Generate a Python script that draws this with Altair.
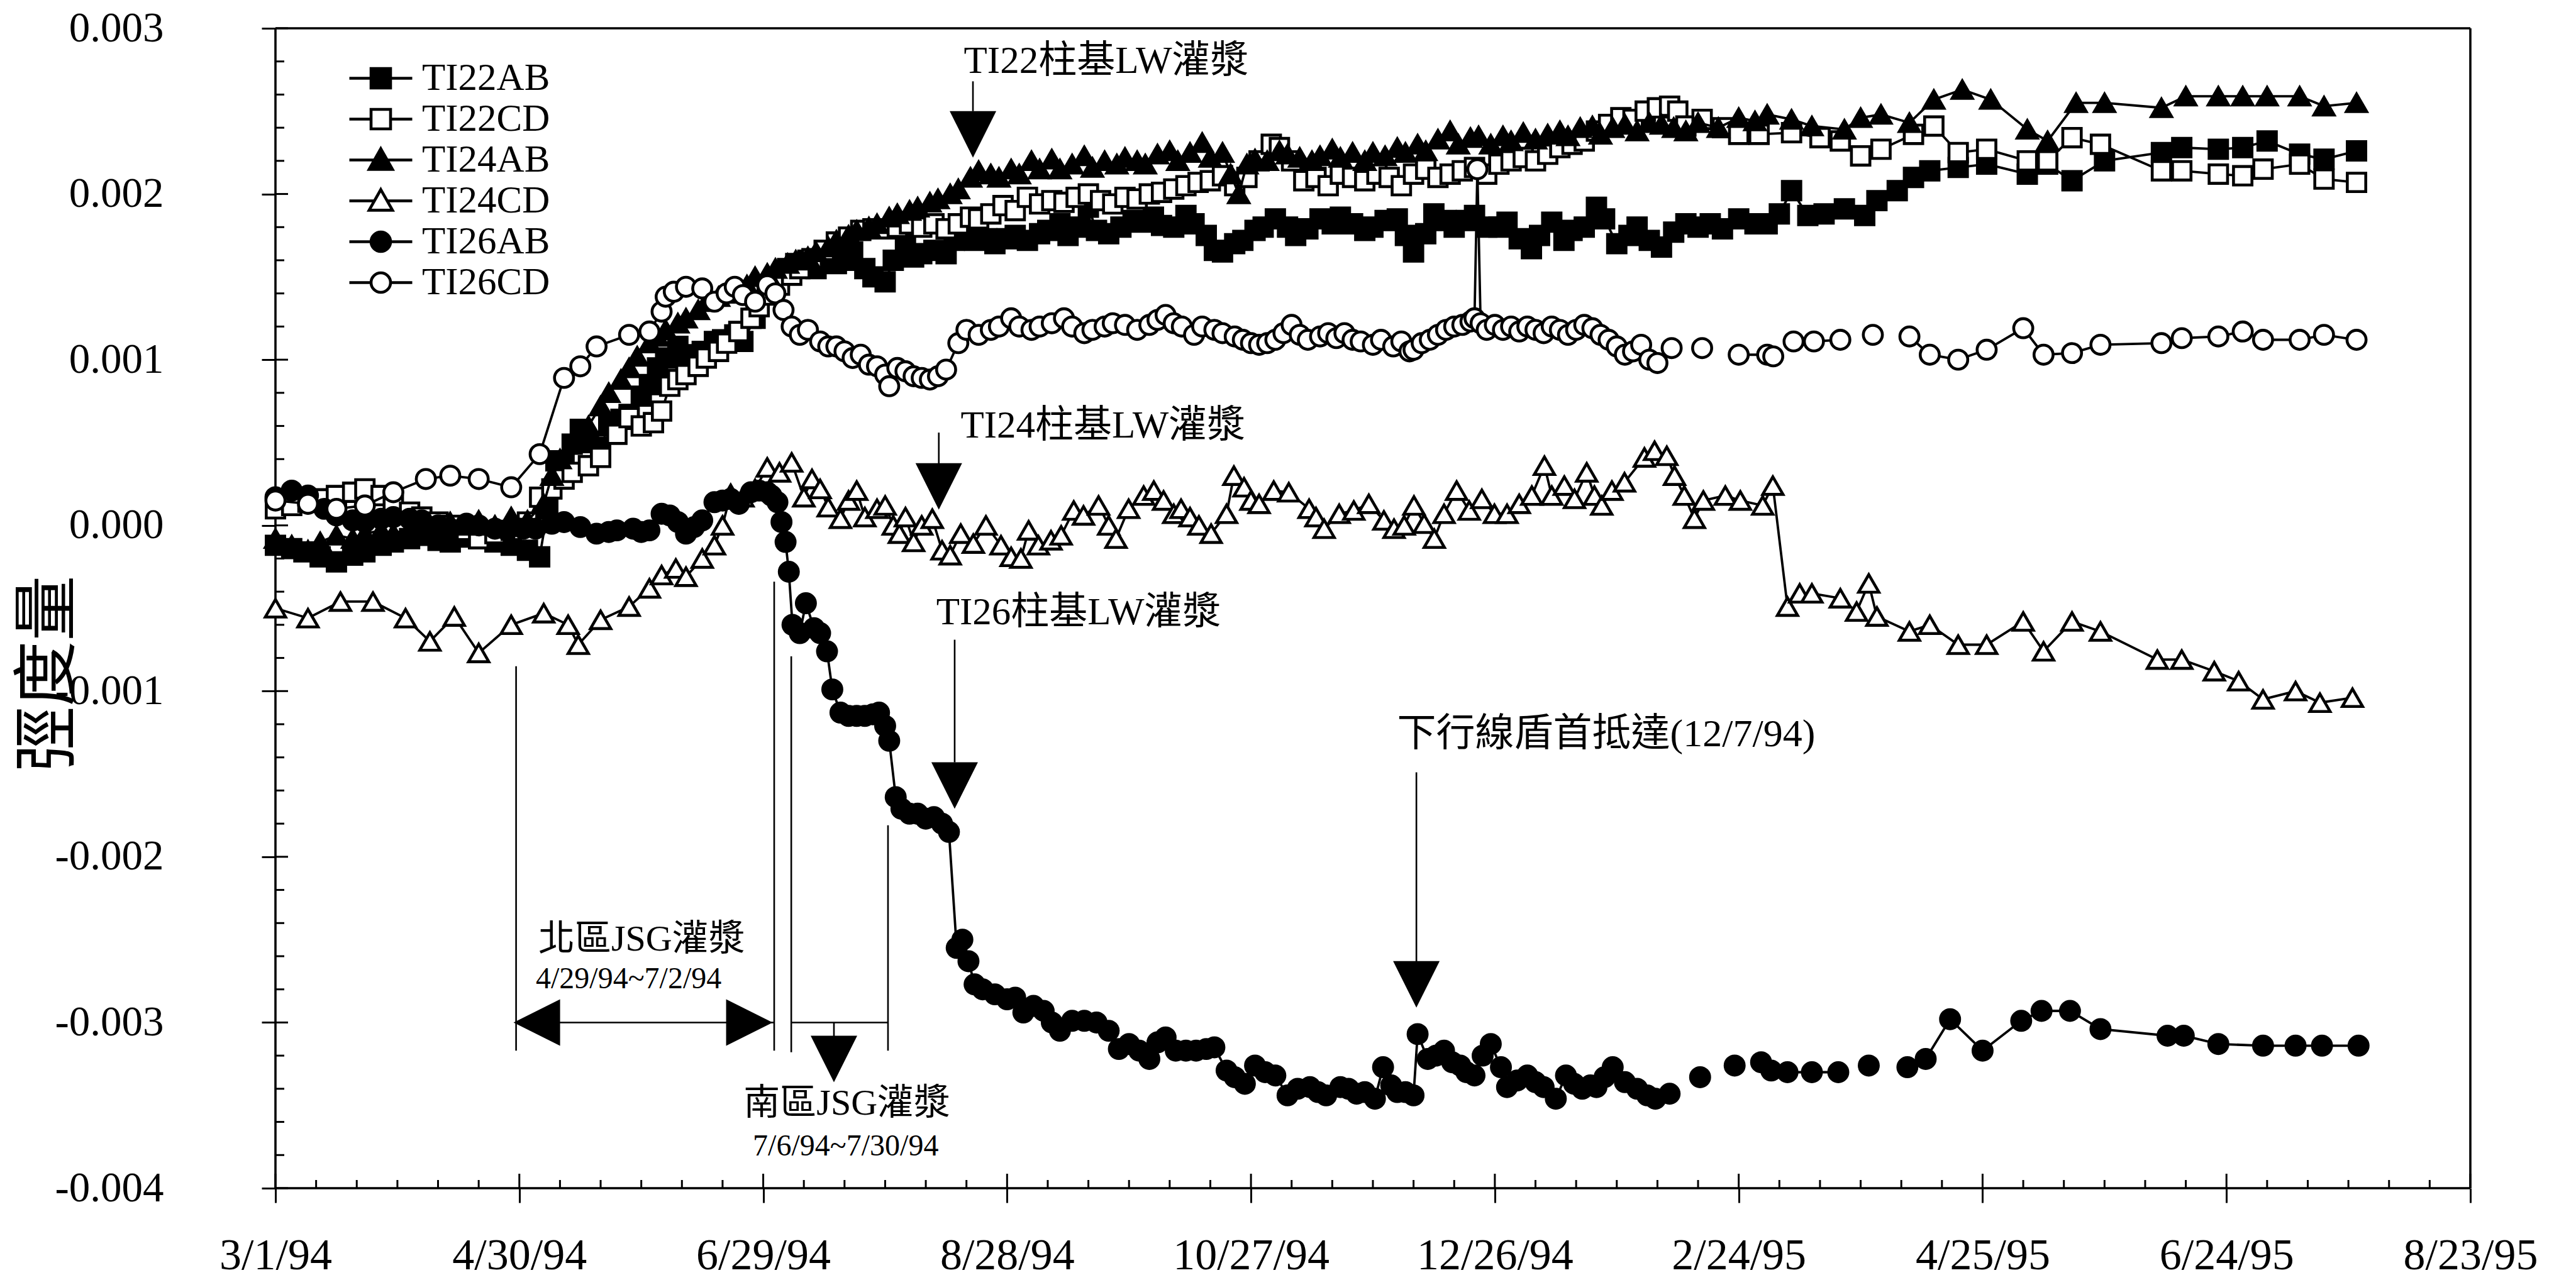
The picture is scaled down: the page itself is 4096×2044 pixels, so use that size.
import json
import altair as alt
import pandas as pd

# ---------------------------------------------------------------- data
# time: days after 3/1/94 ; strain values in units of 1e-3 (None = gap in the record)
SERIES = ["TI22AB", "TI22CD", "TI24AB", "TI24CD", "TI26AB", "TI26CD"]
X_LABELS = ["3/1/94", "4/30/94", "6/29/94", "8/28/94", "10/27/94",
            "12/26/94", "2/24/95", "4/25/95", "6/24/95", "8/23/95"]

ti22ab_day = [0, 4, 7, 11, 15, 19, 22, 26, 29, 33, 36, 40, 43, 47, 50, 54, 58, 62, 65,
              67, 69, 71, 73, 75, 77, 80, 82, 85, 87, 90, 92, 94, 96, 99, 101, 103, 105, 108, 110,
              113, 115, 118, 121, 123, 126, 128, 131, 133, 135, 138, 140, 142, 145, 147, 150, 152,
              155, 157, 159, 162, 165, 167, 170, 172, 175, 177, 180, 182, 185, 188, 190, 193, 195,
              198, 200, 202, 205, 208, 211, 213, 216, 218, 221, 224, 226, 229, 231, 233, 236, 238,
              241, 243, 246, 249, 251, 254, 257, 260, 262, 265, 268, 270, 273, 276, 278, 280, 283,
              285, 288, 290, 293, 295, 298, 301, 303, 306, 309, 311, 314, 317, 319, 322, 325, 327,
              330, 333, 335, 338, 341, 344, 347, 350, 353, 356, 360, 364, 367, 370, 373, 377, 381,
              386, 391, 394, 399, 403, 407, 414, 421, 431, 436, 442, 450, 464, 469, 478, 484, 490,
              498, 504, 512]
ti22ab_val = [-0.12, -0.14, -0.16, -0.19, -0.22, -0.18, -0.16, -0.12, -0.10, -0.08, -0.06, -0.09,
              -0.10, -0.07, -0.08, -0.10, -0.12, -0.15, -0.19,
              0.10, 0.39, 0.37, 0.49, 0.58, 0.50, 0.47, 0.60, 0.64, 0.67, 0.78, 0.85, 0.95, 1.01,
              1.08, 0.97, 1.03, 1.05, 1.11, 1.12, 1.15, 1.11, 1.25, 1.40, 1.47, 1.55, 1.58, 1.60,
              1.55, 1.62, 1.58, 1.60, 1.65, 1.55, 1.50, 1.47, 1.60, 1.70, 1.62, 1.64, 1.66, 1.64,
              1.72, 1.75, 1.72, 1.73, 1.70, 1.73, 1.75, 1.72, 1.76, 1.78, 1.82, 1.75, 1.80, 1.92,
              1.78, 1.76, 1.80, 1.84, 1.83, 1.86, 1.81, 1.80, 1.87, 1.82, 1.75, 1.66, 1.65, 1.70,
              1.72, 1.78, 1.80, 1.85, 1.80, 1.75, 1.79, 1.85, 1.82, 1.86, 1.82, 1.78, 1.80, 1.84,
              1.85, 1.75, 1.65, 1.76, 1.88, 1.84, 1.80, 1.84, 1.87, 1.80, 1.80, 1.83, 1.73, 1.67,
              1.75, 1.83, 1.72, 1.78, 1.80, 1.92, 1.85, 1.70, 1.75, 1.80, 1.72, 1.68, 1.77, 1.82,
              1.80, 1.82, 1.79, 1.85, 1.82, 1.82, 1.88, 2.02, 1.87, 1.88, 1.91, 1.87, 1.96, 2.02,
              2.10, 2.14, 2.16, 2.18, 2.12, 2.18, 2.08, 2.20, 2.25, 2.28, 2.27, 2.28, 2.32, 2.24,
              2.21, 2.26]

ti22cd_day = [0, 4, 8, 12, 15, 19, 22, 26, 29, 33, 36, 40, 43, 47, 50, 54, 58, 62, 65,
              68, 71, 73, 77, 80, 84, 87, 90, 93, 95, 97, 99, 101, 104, 106, 109, 111, 114, 117,
              119, 121, 124, 127, 129, 132, 135, 138, 141, 144, 147, 150, 153, 156, 159, 162, 165,
              168, 171, 173, 176, 179, 182, 185, 188, 191, 194, 197, 200, 203, 206, 209, 212, 215,
              218, 221, 224, 227, 230, 233, 236, 239, 242, 245, 247, 250, 253, 256, 259, 262, 265,
              268, 271, 274, 277, 280, 283, 286, 289, 292, 295, 298, 301, 304, 307, 310, 313, 316,
              319, 322, 325, 328, 331, 334, 337, 340, 343, 345, 347, 351, 356, 360, 365, 373, 380,
              385, 390, 395, 403, 408, 414, 421, 431, 436, 442, 449, 464, 469, 478, 484, 489, 498,
              504, 512]
ti22cd_val = [0.10, 0.12, 0.14, 0.16, 0.18, 0.20, 0.22, 0.18, 0.12, 0.08, 0.05, 0.02, 0.00, -0.03,
              -0.08, -0.05, -0.03, 0.02, 0.17,
              0.22, 0.28, 0.32, 0.36, 0.41, 0.55, 0.65, 0.60, 0.62, 0.69, 0.84, 0.88, 0.91, 0.96,
              1.01, 1.05, 1.10, 1.17, 1.25, 1.32, 1.39, 1.45, 1.51, 1.55, 1.61, 1.66, 1.71, 1.74,
              1.78, 1.79, 1.79, 1.80, 1.82, 1.80, 1.82, 1.79, 1.82, 1.86, 1.85, 1.88, 1.93, 1.90,
              1.98, 1.94, 1.96, 1.95, 1.98, 2.00, 1.96, 1.94, 1.98, 1.97, 2.00, 2.01, 2.03, 2.05,
              2.07, 2.08, 2.11, 2.05, 2.10, 2.20, 2.30, 2.28, 2.20, 2.08, 2.10, 2.05, 2.12, 2.10,
              2.08, 2.12, 2.10, 2.05, 2.12, 2.15, 2.10, 2.12, 2.14, 2.16, 2.12, 2.18, 2.20, 2.22,
              2.20, 2.24, 2.28, 2.30, 2.32, 2.38, 2.42, 2.46, 2.45, 2.50, 2.52, 2.53, 2.50, 2.41,
              2.45, 2.40, 2.36, 2.36, 2.37, 2.34, 2.32, 2.23, 2.27, 2.36, 2.41, 2.25, 2.27, 2.20,
              2.20, 2.34, 2.30, 2.14, 2.14, 2.12, 2.11, 2.15, 2.18, 2.09, 2.07]

ti24ab_day = [0, 4, 8, 11, 15, 19, 22, 26, 29, 33, 36, 40, 43, 47, 50, 54, 58, 62, 66,
              68, 70, 73, 75, 77, 80, 82, 85, 87, 89, 92, 94, 96, 99, 101, 104, 106, 109, 111, 113,
              116, 118, 121, 123, 126, 128, 131, 133, 136, 138, 141, 143, 146, 148, 151, 153, 156,
              158, 161, 163, 166, 168, 171, 173, 176, 178, 181, 183, 186, 188, 191, 193, 196, 199,
              201, 204, 207, 209, 212, 214, 217, 220, 222, 225, 228, 230, 233, 235, 237, 239, 241,
              244, 247, 249, 252, 255, 257, 260, 262, 265, 268, 270, 273, 276, 278, 281, 283, 286,
              289, 291, 294, 296, 299, 302, 304, 307, 310, 313, 316, 318, 321, 324, 326, 329, 332,
              335, 338, 341, 344, 347, 350, 355, 360, 364, 367, 373, 378, 386, 390, 395, 402, 408,
              415, 422, 431, 436, 443, 450, 464, 470, 478, 484, 490, 498, 504, 512]
ti24ab_val = [-0.08, -0.12, -0.15, -0.10, -0.06, -0.08, -0.05, -0.03, -0.05, -0.02, 0.00, -0.03,
              0.02, 0.00, 0.03, 0.00, 0.05, 0.03, 0.13,
              0.30, 0.40, 0.50, 0.55, 0.60, 0.72, 0.80, 0.88, 0.95, 1.02, 1.10, 1.14, 1.18, 1.22,
              1.25, 1.30, 1.35, 1.38, 1.40, 1.42, 1.45, 1.50, 1.52, 1.55, 1.58, 1.60, 1.62, 1.65,
              1.68, 1.72, 1.75, 1.78, 1.80, 1.82, 1.86, 1.88, 1.90, 1.92, 1.95, 1.97, 2.00, 2.03,
              2.10, 2.14, 2.12, 2.10, 2.15, 2.12, 2.20, 2.15, 2.21, 2.15, 2.18, 2.23, 2.16, 2.20,
              2.18, 2.22, 2.20, 2.18, 2.24, 2.26, 2.20, 2.25, 2.31, 2.22, 2.25, 2.12, 2.00, 2.18,
              2.21, 2.20, 2.26, 2.24, 2.22, 2.20, 2.23, 2.27, 2.22, 2.25, 2.20, 2.25, 2.23, 2.28,
              2.25, 2.30, 2.26, 2.33, 2.38, 2.30, 2.34, 2.35, 2.30, 2.35, 2.32, 2.37, 2.33, 2.36,
              2.38, 2.35, 2.40, 2.41, 2.36, 2.40, 2.42, 2.38, 2.43, 2.42, 2.40, 2.38, 2.43, 2.40,
              2.46, 2.44, 2.48, 2.45, 2.41, 2.39, 2.46, 2.48, 2.43, 2.57, 2.63, 2.57, 2.39, 2.32,
              2.55, 2.55, 2.52, 2.59, 2.59, 2.59, 2.59, 2.59, 2.53, 2.55]

ti24cd_day = [0, 8, 16, 24, 32, 38, 44, 50, 58, 66, 72, 74.5, 80, 87, 92, 95, 98.5, 101, 105,
              108, 110, 112, 115, 118, 121, 124, 127, 130, 132, 134, 136, 139, 141, 143, 145, 148,
              150, 152, 153.5, 155, 157, 159, 161.6, 164, 166, 168.6, 171.7, 174.8, 178.5, 181,
              183.4, 185.3, 187.7, 190.8, 193.3, 196.4, 198.8, 202.5, 205, 206.8, 209.9, 213.6,
              216.1, 218.5, 221, 222.8, 225, 227.2, 230.2, 234, 235.8, 238.3, 240, 242, 245.6,
              249.3, 254.3, 256, 258, 261.7, 265.3, 269, 272.7, 275.2, 277.7, 280.1, 282.6, 285.1,
              287.5, 290.6, 293.7, 296.8, 299.9, 303, 306, 309.1, 312.2, 314, 317.1, 319.6, 322.6,
              324.5, 326.3, 328.8, 331.9, 336.8, 339.3, 342.3, 344.2, 346.6, 349.1, 351.3, 356.7,
              360.4, 365.9, 368.4, 372, 375, 378, 385, 389, 392, 394, 402, 407, 414, 421, 430, 435,
              442, 449, 463, 469, 477, 483, 489, 497, 503, 511]
ti24cd_val = [-0.50, -0.56, -0.46, -0.46, -0.56, -0.70, -0.55, -0.77, -0.60, -0.53, -0.60, -0.72,
              -0.57, -0.49, -0.38, -0.30, -0.26, -0.31, -0.20, -0.12, 0.00, 0.19, 0.17, 0.22, 0.35,
              0.32, 0.38, 0.17, 0.28, 0.22, 0.11, 0.04, 0.15, 0.21, 0.05, 0.10, 0.12, 0.00, -0.05,
              0.05, -0.10, 0.00, 0.04, -0.15, -0.18, -0.05, -0.11, 0.00, -0.12, -0.19, -0.20,
              -0.03, -0.12, -0.09, -0.06, 0.09, 0.06, 0.12, 0.00, -0.08, 0.10, 0.18, 0.21, 0.15,
              0.07, 0.10, 0.05, 0.00, -0.05, 0.07, 0.30, 0.23, 0.15, 0.13, 0.21, 0.20, 0.10, 0.05,
              -0.02, 0.07, 0.09, 0.13, 0.03, -0.02, 0.00, 0.12, 0.01, -0.08, 0.07, 0.21, 0.09, 0.16,
              0.07, 0.07, 0.13, 0.18, 0.36, 0.18, 0.24, 0.16, 0.32, 0.18, 0.12, 0.21, 0.26, 0.41,
              0.45, 0.42, 0.30, 0.18, 0.04, 0.15, 0.18, 0.15, 0.12, 0.24, -0.49, -0.41, -0.41,
              -0.44, -0.52, -0.35, -0.55, -0.64, -0.60, -0.72, -0.72, -0.58, -0.76, -0.58, -0.64,
              -0.81, -0.81, -0.88, -0.94, -1.05, -1.00, -1.07, -1.04]

ti26ab_day = [0, 4, 8, 12, 15, 19, 22, 26, 29, 33, 36, 40, 43, 47, 50, 54, 57, 61, 64, 68, 71,
              75, 79, 82, 84, 88, 90, 92, 95, 97, 99, 101, 103, 105, 108, 110, 112, 114, 117, 119,
              121, 122, 123.5, 124.5, 125.5, 126.3, 127.2, 129, 130.5, 132.5, 134, 135.7, 137, 139,
              141, 143, 145, 147, 148.5, 150, 151, 152.6, 154, 156, 158, 160, 162, 164, 165.7,
              167.6, 169, 170.5, 172, 174, 177, 180, 182, 184, 186.5, 189, 191, 193, 196, 199, 202,
              205, 207.5, 210, 212.5, 215, 217, 219, 221.5, 224, 226.5, 229, 231, 234, 236, 238.5,
              241, 243.5, 246, 249, 251.5, 254.5, 256.5, 258.5, 262, 264, 266, 268, 270.5, 272.5,
              274.5, 276, 278, 280, 281, 283.5, 285.5, 287.5, 289.5, 291.5, 293, 295, 297, 299,
              301.5, 303, 305.5, 308, 310, 312, 315, 317.5, 319.5, 321.5, 323.5, 325, 327, 329, 332,
              335, 337.5, 339.5, 343, None, 350.5, None, 359, None, 365.5, 368, 372, 378, 384.5,
              None, 392, None, 401.5, 406, 412, 420, 429.5, 434.5, 441.5, 449, 465.5, 469.5, 478,
              489, 497, 503.5, 512.5]
ti26ab_val = [0.17, 0.21, 0.18, 0.10, 0.06, 0.03, 0.02, 0.04, 0.05, 0.04, 0.03, 0.00, -0.02, 0.01,
              0.00, -0.02, -0.03, -0.02, -0.02, 0.01, 0.02, -0.01, -0.05, -0.04, -0.03, -0.02,
              -0.04, -0.03, 0.07, 0.06, 0.02, -0.05, -0.01, 0.03, 0.14, 0.15, 0.16, 0.13, 0.20,
              0.21, 0.20, 0.18, 0.14, 0.02, -0.10, -0.28, -0.60, -0.65, -0.47, -0.62, -0.65, -0.76,
              -0.99, -1.13, -1.15, -1.15, -1.15, -1.14, -1.13, -1.21, -1.30, -1.64, -1.71, -1.74,
              -1.74, -1.77, -1.76, -1.80, -1.85, -2.55, -2.50, -2.63, -2.77, -2.80, -2.83, -2.86,
              -2.85, -2.94, -2.90, -2.93, -3.00, -3.05, -2.99, -2.99, -3.00, -3.05, -3.16, -3.13,
              -3.17, -3.22, -3.12, -3.09, -3.17, -3.17, -3.17, -3.16, -3.15, -3.29, -3.33, -3.37,
              -3.26, -3.30, -3.32, -3.44, -3.40, -3.39, -3.42, -3.44, -3.39, -3.40, -3.43, -3.42,
              -3.46, -3.27, -3.38, -3.42, -3.42, -3.44, -3.07, -3.22, -3.20, -3.17, -3.24, -3.26,
              -3.30, -3.32, -3.20, -3.13, -3.27, -3.39, -3.35, -3.32, -3.36, -3.39, -3.46, -3.32,
              -3.37, -3.40, -3.38, -3.39, -3.33, -3.27, -3.36, -3.40, -3.44, -3.46, -3.43, None,
              -3.33, None, -3.26, None, -3.24, -3.29, -3.30, -3.30, -3.30, None, -3.26, None, -3.27,
              -3.22, -2.98, -3.17, -2.99, -2.93, -2.93, -3.04, -3.08, -3.08, -3.13, -3.14, -3.14,
              -3.14, -3.14]

ti26cd_day = [0, 8, 15, 22, 29, 37, 43, 50, 58, 65, 71, 75, 79, 87, 92, 95, 96, 98, 101, 105,
              108, 111, 113, 115, 118, 121, 123, 125, 127, 129, 131, 134, 136, 138, 140, 142, 144,
              146, 148, 150, 151, 153, 155, 157, 159, 161, 163, 165, 168, 170, 173, 176, 178, 181,
              183, 186, 188, 191, 194, 196, 199, 201, 204, 206, 209, 212, 215, 217, 219, 221, 223,
              226, 228, 231, 233, 236, 238, 240, 242, 244, 246, 248, 250, 252, 254, 257, 259, 261,
              263, 265, 267, 270, 272, 275, 277, 279, 280, 282, 284, 286, 288, 290, 292, 294, 295,
              295.7, 296.5, 298, 300, 302, 304, 306, 308, 310, 312, 314, 316, 318, 320, 322, 324,
              326, 328, 330, 332, 334, 336, 338, 340, 343.5, None, 351, None, 360, 367, 368.5, None,
              373.5, 378.5, 385, None, 393, None, 402, 407, 414, 421, 430, 435, 442, 449, 464, 469,
              478, 484, 489, 498, 504, 512]
ti26cd_val = [0.15, 0.13, 0.10, 0.12, 0.20, 0.28, 0.30, 0.28, 0.23, 0.43, 0.89, 0.96, 1.08, 1.15,
              1.17, 1.29, 1.38, 1.41, 1.44, 1.43, 1.35, 1.40, 1.44, 1.39, 1.35, 1.45, 1.40, 1.30,
              1.20, 1.15, 1.18, 1.11, 1.08, 1.08, 1.05, 1.01, 1.03, 0.97, 0.96, 0.91, 0.84, 0.95,
              0.93, 0.90, 0.89, 0.88, 0.90, 0.94, 1.10, 1.18, 1.15, 1.18, 1.20, 1.25, 1.20, 1.18,
              1.20, 1.22, 1.25, 1.20, 1.16, 1.18, 1.20, 1.22, 1.21, 1.18, 1.21, 1.24, 1.27, 1.22,
              1.20, 1.15, 1.20, 1.18, 1.16, 1.14, 1.12, 1.10, 1.09, 1.10, 1.12, 1.16, 1.21, 1.15,
              1.12, 1.14, 1.16, 1.13, 1.16, 1.12, 1.11, 1.09, 1.12, 1.08, 1.11, 1.05, 1.06, 1.10,
              1.12, 1.15, 1.18, 1.20, 1.21, 1.23, 1.25, 2.15, 1.22, 1.18, 1.21, 1.18, 1.20, 1.17,
              1.20, 1.18, 1.16, 1.20, 1.18, 1.15, 1.18, 1.21, 1.19, 1.15, 1.12, 1.08, 1.03, 1.05,
              1.09, 1.00, 0.98, 1.07, None, 1.07, None, 1.03, 1.03, 1.02, None, 1.11, 1.11, 1.12,
              None, 1.15, None, 1.14, 1.03, 1.00, 1.06, 1.19, 1.03, 1.04, 1.09, 1.10, 1.13, 1.14,
              1.17, 1.12, 1.12, 1.15, 1.12]

# annotations (positions in data units)
ANN_TEXT = ["TI22柱基LW灌漿", "TI24柱基LW灌漿", "TI26柱基LW灌漿", "下行線盾首抵達(12/7/94)",
            "北區JSG灌漿", "4/29/94~7/2/94", "南區JSG灌漿", "7/6/94~7/30/94"]
ANN_DAY = [204.4, 203.6, 197.6, 327.4, 90.1, 86.9, 140.6, 140.3]
ANN_VAL = [2.80, 0.60, -0.53, -1.26, -2.50, -2.74, -3.49, -3.75]
ANN_SIZE = [61, 61, 61, 62, 58, 48, 58, 48]

VR_DAY = [171.6, 163.2, 167.1, 280.7, 59.2, 122.7, 126.9, 150.7, 137.4]
VR_TOP = [2.68, 0.56, -0.69, -1.49, -0.85, -0.34, -0.79, -1.81, -3.00]
VR_BOT = [2.50, 0.36, -1.43, -2.63, -3.17, -3.17, -3.18, -3.17, -3.09]

HR_DAY1 = [59.2, 126.9]
HR_DAY2 = [122.7, 150.7]
HR_VAL = [-3.00, -3.00]

DOWN = "M-1,-1L1,-1L0,1Z"
LEFT = "M1,-1L1,1L-1,0Z"
RIGHT = "M-1,-1L-1,1L1,0Z"
DOWN_DAY = [171.6, 163.2, 167.1, 280.7, 137.4]
DOWN_VAL = [2.36, 0.235, -1.57, -2.77, -3.22]
LEFT_DAY, LEFT_VAL = [64.3], [-3.00]
RIGHT_DAY, RIGHT_VAL = [116.6], [-3.00]

# ---------------------------------------------------------------- styling
W, H = 3490, 1845
SERIF = "Liberation Serif, Times New Roman, serif"
MIXED = "Liberation Serif, Noto Sans CJK TC, serif"

SHAPES = ["square", "square", "triangle-up", "triangle-up", "circle", "circle"]
FILLS = ["black", "white", "black", "white", "black", "white"]
SIZES = [860, 860, 1040, 1040, 920, 920]

LEG_PATHS = [
    "M-1.613,0H-0.5M0.5,0H1.613M-0.5,-0.5H0.5V0.5H-0.5Z",
    "M-1.613,0H-0.5M0.5,0H1.613M-0.5,-0.5H0.5V0.5H-0.5Z",
    "M-1.613,0H-0.32M0.32,0H1.613M0,-0.58L0.6,0.48L-0.6,0.48Z",
    "M-1.613,0H-0.32M0.32,0H1.613M0,-0.58L0.6,0.48L-0.6,0.48Z",
    "M-1.613,0H-0.5M0.5,0H1.613M-0.5,0A0.5,0.5,0,1,1,0.5,0A0.5,0.5,0,1,1,-0.5,0Z",
    "M-1.613,0H-0.5M0.5,0H1.613M-0.5,0A0.5,0.5,0,1,1,0.5,0A0.5,0.5,0,1,1,-0.5,0Z",
]

x_axis = alt.Axis(
    values=[i * 60 for i in range(len(X_LABELS))],
    labelExpr=f"{json.dumps(X_LABELS)}[round(datum.value / 60)]",
    title=None, grid=False, domain=False,
    ticks=True, tickSize=23, tickWidth=3, tickColor="black",
    labelFont=SERIF, labelFontSize=70, labelColor="black", labelLimit=0,
    labelPadding=50, labelBaseline="top", labelFlush=False, labelOverlap=False,
)
y_axis = alt.Axis(
    values=list(range(-4, 4)),
    labelExpr="(datum.value < 0 ? '-' : '') + format(abs(datum.value) / 1000, '.3f')",
    title="弳度量", titleFont="Noto Sans CJK TC", titleFontSize=104, titleFontWeight="normal",
    titleColor="black", titleAngle=270, titleX=-360, titleY=1026,
    titleAlign="center", titleBaseline="middle", titleLimit=0,
    grid=False, domain=False,
    ticks=True, tickSize=22, tickWidth=3, tickColor="black",
    labelFont=SERIF, labelFontSize=67, labelColor="black", labelLimit=0,
    labelPadding=156, labelFlush=False, labelOverlap=False,
)

X = alt.X("day:Q", scale=alt.Scale(domain=[0, 540], nice=False, zero=False), axis=x_axis)
Y = alt.Y("val:Q", scale=alt.Scale(domain=[-4, 3], nice=False, zero=False), axis=y_axis)


def frame(days, vals):
    rows, seg = [], 0
    for d, v in zip(days, vals):
        if v is None:
            seg += 1
            continue
        rows.append({"day": d, "val": v, "seg": seg})
    return pd.DataFrame(rows)


series_data = {
    "TI22AB": (ti22ab_day, ti22ab_val),
    "TI22CD": (ti22cd_day, ti22cd_val),
    "TI24AB": (ti24ab_day, ti24ab_val),
    "TI24CD": (ti24cd_day, ti24cd_val),
    "TI26AB": (ti26ab_day, ti26ab_val),
    "TI26CD": (ti26cd_day, ti26cd_val),
}

layers = []

# plot frame (drawn through the scales at the domain limits)
layers.append(alt.Chart(pd.DataFrame({"val": [-4, 3]})).mark_rule(color="black", strokeWidth=3.6)
              .encode(y=Y, x=alt.value(0), x2=alt.value(W)))
layers.append(alt.Chart(pd.DataFrame({"day": [0, 540]})).mark_rule(color="black", strokeWidth=3.6)
              .encode(x=X, y=alt.value(0), y2=alt.value(H)))

# inward tick marks (minor and major)
ymaj = pd.DataFrame({"val": list(range(-4, 4))})
ymin = pd.DataFrame({"val": [k / 5 for k in range(-20, 16) if k % 5 != 0]})
xmaj = pd.DataFrame({"day": [i * 60 for i in range(10)]})
xmin = pd.DataFrame({"day": [d for d in range(0, 541, 10) if d % 60 != 0]})
layers.append(alt.Chart(ymaj).mark_rule(color="black", strokeWidth=3).encode(
    y=Y, x=alt.value(0), x2=alt.value(20)))
layers.append(alt.Chart(ymin).mark_rule(color="black", strokeWidth=3).encode(
    y=Y, x=alt.value(0), x2=alt.value(14)))
layers.append(alt.Chart(xmaj).mark_rule(color="black", strokeWidth=3).encode(
    x=X, y=alt.value(H - 23), y2=alt.value(H)))
layers.append(alt.Chart(xmin).mark_rule(color="black", strokeWidth=3).encode(
    x=X, y=alt.value(H - 13), y2=alt.value(H)))

# annotation lines / arrows
vr = pd.DataFrame({"day": VR_DAY, "val": VR_TOP, "val2": VR_BOT})
layers.append(alt.Chart(vr).mark_rule(color="black", strokeWidth=2.6).encode(
    x=X, y=Y, y2=alt.Y2("val2:Q")))
hr = pd.DataFrame({"day": HR_DAY1, "day2": HR_DAY2, "val": HR_VAL})
layers.append(alt.Chart(hr).mark_rule(color="black", strokeWidth=2.6).encode(
    x=X, x2=alt.X2("day2:Q"), y=Y))
for days, vals, path in [(DOWN_DAY, DOWN_VAL, DOWN), (LEFT_DAY, LEFT_VAL, LEFT),
                         (RIGHT_DAY, RIGHT_VAL, RIGHT)]:
    layers.append(alt.Chart(pd.DataFrame({"day": days, "val": vals}))
                  .mark_point(shape=path, filled=True, color="black", opacity=1, size=5476,
                              strokeWidth=0)
                  .encode(x=X, y=Y))

# data series
for name, shape, fill, size in zip(SERIES, SHAPES, FILLS, SIZES):
    df = frame(*series_data[name])
    layers.append(alt.Chart(df).mark_line(color="black", strokeWidth=3.8).encode(
        x=X, y=Y, detail="seg:N", order="day:Q"))
    layers.append(alt.Chart(df).mark_point(shape=shape, filled=True, fill=fill, stroke="black",
                                           strokeWidth=4.6, size=size, opacity=1).encode(
        x=X, y=Y))

# legend-only layer: its rows lie far outside the view; the legend comes from explicit domains
legend_df = pd.DataFrame({"day": [-9999] * 6, "val": [0] * 6, "series": SERIES})
leg_common = dict(
    orient="none", legendX=134, legendY=46, title=None, padding=0, rowPadding=1,
    symbolSize=3844, symbolStrokeColor="black", symbolStrokeWidth=4.6, symbolOpacity=1,
    labelFont=SERIF, labelFontSize=61, labelColor="black", labelOffset=32, labelLimit=0,
)
layers.append(
    alt.Chart(legend_df)
    .mark_point(filled=True, strokeWidth=4.6, opacity=1)
    .encode(
        x=X, y=Y,
        shape=alt.Shape("series:N", scale=alt.Scale(domain=SERIES, range=LEG_PATHS),
                        legend=alt.Legend(**leg_common)),
        fill=alt.Fill("series:N", scale=alt.Scale(domain=SERIES, range=FILLS),
                      legend=alt.Legend(**leg_common)),
        stroke=alt.Stroke("series:N", scale=alt.Scale(domain=SERIES, range=["black"] * 6),
                          legend=alt.Legend(**leg_common)),
    )
)

# annotation texts
ann = pd.DataFrame({"day": ANN_DAY, "val": ANN_VAL, "text": ANN_TEXT, "fs": ANN_SIZE})
layers.append(alt.Chart(ann).mark_text(font=MIXED, color="black", align="center",
                                       baseline="middle").encode(
    x=X, y=Y, text="text:N", size=alt.Size("fs:Q", scale=None, legend=None)))

chart = (
    alt.layer(*layers)
    .properties(width=W, height=H,
                padding={"left": 430, "top": 37, "right": 160, "bottom": 146},
                autosize=alt.AutoSizeParams(type="none"))
    .configure_view(strokeWidth=0)
    .configure(background="white")
)

chart.save("out.html", embed_options={"renderer": "svg", "actions": False})
